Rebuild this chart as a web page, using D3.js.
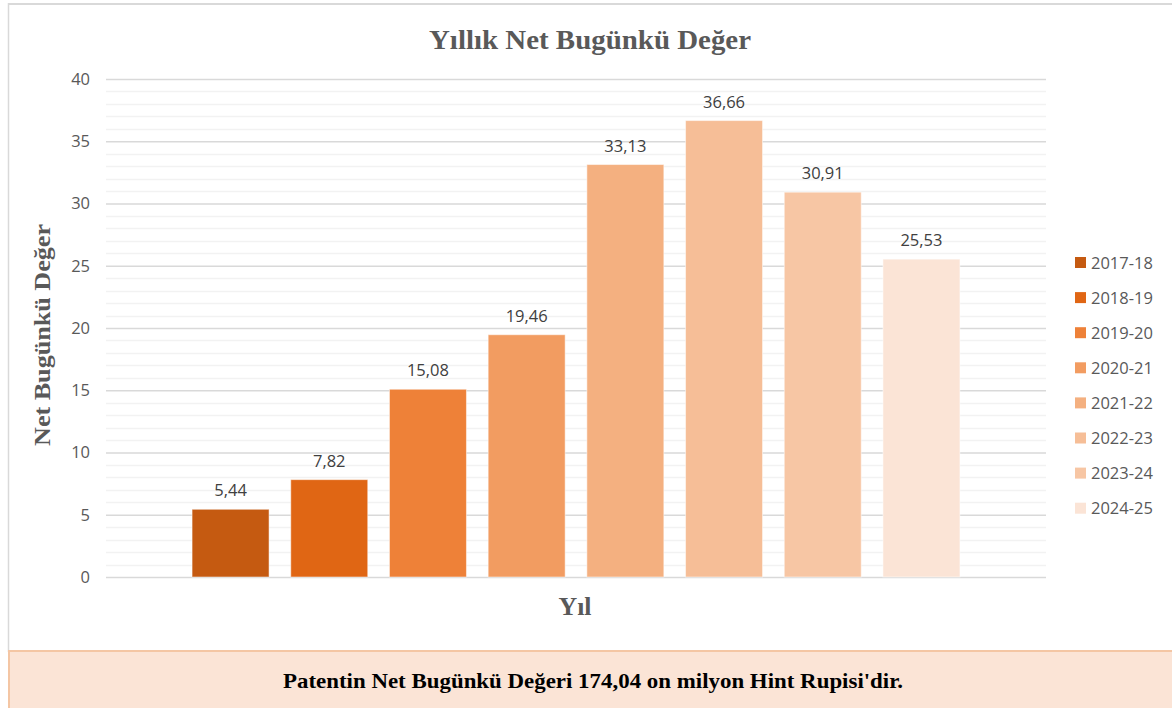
<!DOCTYPE html>
<html><head><meta charset="utf-8">
<script src="https://cdn.jsdelivr.net/npm/d3@7"></script>
<style>body{margin:0;background:#fff}svg{display:block}</style>
</head><body>
<svg id="c" width="1172" height="708"></svg>
<script>
const years = ["2017-18","2018-19","2019-20","2020-21","2021-22","2022-23","2023-24","2024-25"];
const values = [5.44, 7.82, 15.08, 19.46, 33.13, 36.66, 30.91, 25.53];
const colors = ["#C55A11","#E06614","#EE8138","#F29C61","#F4B080","#F6BE97","#F7C6A4","#FBE4D6"];
const yTicks = [0,5,10,15,20,25,30,35,40];
const minorTicks = d3.range(0,41,1);
const titleText = "Yıllık Net Bugünkü Değer";
const yLabel = "Net Bugünkü Değer";
const xLabel = "Yıl";
const footnote = "Patentin Net Bugünkü Değeri 174,04 on milyon  Hint Rupisi'dir.";

const svg = d3.select("#c");
const fmt = v => d3.format(".2f")(v).replace(".", ",");
const plot = {left:106, right:1046, top:79, bottom:577};
const sans = "'Open Sans', 'Liberation Sans', sans-serif";

// frame
svg.append("line").attr("x1",8).attr("x2",1172).attr("y1",4).attr("y2",4).attr("stroke","#D9D9D9").attr("stroke-width",2);
svg.append("line").attr("x1",8.5).attr("x2",8.5).attr("y1",3).attr("y2",652).attr("stroke","#D9D9D9").attr("stroke-width",1.5);

const y = d3.scaleLinear().domain([0,40]).range([plot.bottom, plot.top]);
const x = d3.scaleBand().domain(years).range([plot.left, plot.right]).paddingInner(0.22).paddingOuter(0.872);

// minor grid
svg.append("g").selectAll("line").data(minorTicks.filter(d=>d%5!==0)).join("line")
  .attr("x1",plot.left).attr("x2",plot.right)
  .attr("y1",d=>Math.round(y(d))+0.5).attr("y2",d=>Math.round(y(d))+0.5)
  .attr("stroke","#F2F2F2").attr("stroke-width",1.5);
// major grid via axis
const ax = d3.axisLeft(y).tickValues(yTicks).tickSize(-(plot.right-plot.left)).tickPadding(16).tickFormat(d=>d);
const ga = svg.append("g").attr("transform",`translate(${plot.left},0)`).call(ax);
ga.select(".domain").remove();
ga.selectAll(".tick line").attr("stroke","#D9D9D9").attr("stroke-width",1.5);
ga.selectAll(".tick text").attr("fill","#595959").style("font-family",sans).style("font-size","16.5px");

// bars
svg.append("g").selectAll("rect").data(years).join("rect")
  .attr("x",d=>x(d)).attr("width",x.bandwidth())
  .attr("y",(d,i)=>y(values[i])).attr("height",(d,i)=>y(0)-y(values[i]))
  .attr("fill",(d,i)=>colors[i]).attr("stroke","#FFFFFF").attr("stroke-opacity",0.5).attr("stroke-width",1);

// labels
svg.append("g").selectAll("text").data(years).join("text")
  .attr("x",d=>x(d)+x.bandwidth()/2).attr("y",(d,i)=>y(values[i])-13)
  .attr("text-anchor","middle").attr("fill","#404040")
  .style("font-family",sans).style("font-size","16.5px")
  .text((d,i)=>fmt(values[i]));

// title
svg.append("text").attr("x",590).attr("y",49).attr("text-anchor","middle")
  .attr("fill","#595959").style("font-family","'Liberation Serif', serif").style("font-weight","bold").style("font-size","27px")
  .attr("textLength",322).attr("lengthAdjust","spacingAndGlyphs").text(titleText);

// y label
svg.append("text").attr("transform","translate(50,335) rotate(-90)").attr("text-anchor","middle")
  .attr("fill","#595959").style("font-family","'Liberation Serif', serif").style("font-weight","bold").style("font-size","23px")
  .attr("textLength",222).attr("lengthAdjust","spacingAndGlyphs").text(yLabel);

// x label
svg.append("text").attr("x",575).attr("y",615).attr("text-anchor","middle")
  .attr("fill","#595959").style("font-family","'Liberation Serif', serif").style("font-weight","bold").style("font-size","25px")
  .attr("textLength",33).attr("lengthAdjust","spacingAndGlyphs").text(xLabel);

// legend
const lg = svg.append("g").selectAll("g").data(years).join("g")
  .attr("transform",(d,i)=>`translate(1075,${263 + i*35.1})`);
lg.append("rect").attr("x",0).attr("y",-6).attr("width",11).attr("height",11).attr("fill",(d,i)=>colors[i]);
lg.append("text").attr("x",16).attr("y",0).attr("dy","0.35em").attr("fill","#595959")
  .style("font-family",sans).style("font-size","16.5px").text(d=>d);

// footnote box
svg.append("rect").attr("x",9).attr("y",651).attr("width",1170).attr("height",70)
  .attr("fill","#FBE4D6").attr("stroke","#F4C6A4").attr("stroke-width",2);
svg.append("text").attr("x",593).attr("y",688).attr("text-anchor","middle").attr("fill","#000")
  .style("font-family","'Liberation Serif', serif").style("font-weight","bold").style("font-size","21px")
  .attr("textLength",620).attr("lengthAdjust","spacingAndGlyphs").text(footnote);
</script>
</body></html>
